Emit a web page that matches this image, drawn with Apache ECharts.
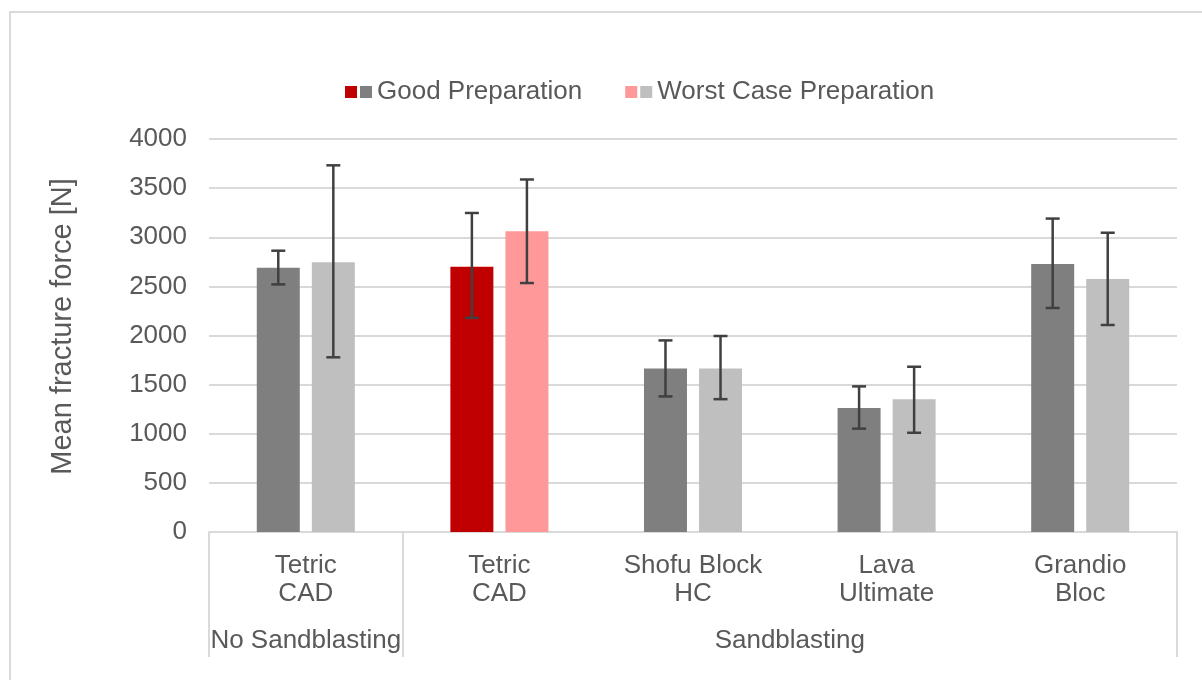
<!DOCTYPE html>
<html>
<head>
<meta charset="utf-8">
<script src="https://cdn.jsdelivr.net/npm/echarts@6/dist/echarts.min.js"></script>
<style>
html,body{margin:0;padding:0;background:#fff;}
#chart{width:1202px;height:680px;}
</style>
</head>
<body>
<div id="chart"></div>
<script>
// ---- data ----
const categories = ['Tetric\nCAD', 'Tetric\nCAD', 'Shofu Block\nHC', 'Lava\nUltimate', 'Grandio\nBloc'];
const groupLabels = ['No Sandblasting', 'Sandblasting'];
const groupSpans = [1, 4]; // number of categories per group
const seriesNames = ['Good Preparation', 'Worst Case Preparation'];
const goodValues = [2690, 2700, 1665, 1262, 2728];
const goodLow    = [2520, 2180, 1380, 1052, 2280];
const goodHigh   = [2863, 3247, 1950, 1482, 3190];
const worstValues = [2745, 3060, 1665, 1350, 2575];
const worstLow    = [1778, 2534, 1352, 1010, 2107];
const worstHigh   = [3732, 3588, 1995, 1682, 3046];
const yTicks = [0, 500, 1000, 1500, 2000, 2500, 3000, 3500, 4000];
const highlightIndex = 1;

// ---- styles ----
const textColor = '#595959';
const gridColor = '#d9d9d9';
const goodColor = '#7f7f7f', goodHi = '#c00000';
const worstColor = '#bfbfbf', worstHi = '#ff9999';
const barWidth = 43;
const barGapPct = 0.28;
const fontFamily = 'Liberation Sans, Arial, sans-serif';
const fs = 26;

// group boundaries and centers in category units
const bounds = [0];
groupSpans.forEach(s => bounds.push(bounds[bounds.length - 1] + s));
const centers = groupSpans.map((s, i) => bounds[i] + s / 2);

function errSeries(low, high, sign) {
  return {
    type: 'custom',
    xAxisIndex: 0,
    yAxisIndex: 0,
    silent: true,
    z: 5,
    data: low.map((l, i) => [i, l, high[i]]),
    renderItem: function (params, api) {
      const off = sign * barWidth * (1 + barGapPct) / 2;
      const p1 = api.coord([api.value(0), api.value(1)]);
      const p2 = api.coord([api.value(0), api.value(2)]);
      const x = p1[0] + off;
      const cap = 7;
      const style = { stroke: '#404040', lineWidth: 2.5, fill: null };
      return {
        type: 'group',
        children: [
          { type: 'line', shape: { x1: x, y1: p1[1], x2: x, y2: p2[1] }, style: style },
          { type: 'line', shape: { x1: x - cap, y1: p1[1], x2: x + cap, y2: p1[1] }, style: style },
          { type: 'line', shape: { x1: x - cap, y1: p2[1], x2: x + cap, y2: p2[1] }, style: style }
        ]
      };
    }
  };
}

const chart = echarts.init(document.getElementById('chart'), null, { renderer: 'canvas' });
chart.setOption({
  animation: false,
  backgroundColor: '#ffffff',
  textStyle: { fontFamily: fontFamily },
  graphic: [{
    type: 'rect',
    shape: { x: 10, y: 12, width: 1300, height: 800 },
    style: { fill: null, stroke: gridColor, lineWidth: 2 },
    silent: true
  }],
  legend: {
    left: 340,
    top: 74,
    itemGap: 43,
    itemWidth: 12,
    itemHeight: 12,
    icon: 'rect',
    data: [
      { name: seriesNames[0], itemStyle: { color: goodHi } },
      { name: seriesNames[1], itemStyle: { color: worstHi } }
    ],
    formatter: function (name) {
      return (name === seriesNames[0] ? '{g|}' : '{w|}') + '{t|' + name + '}';
    },
    textStyle: {
      color: textColor,
      fontSize: fs,
      padding: [0, 0, 0, -2],
      rich: {
        g: { width: 12, height: 12, backgroundColor: goodColor },
        w: { width: 12, height: 12, backgroundColor: worstColor },
        t: { fontSize: fs, color: textColor, padding: [0, 0, 0, 5] }
      }
    }
  },
  grid: { left: 209, right: 25, top: 139, bottom: 148, containLabel: false },
  xAxis: [{
    type: 'category',
    data: categories,
    position: 'bottom',
    axisLine: { show: true, lineStyle: { color: gridColor, width: 2 } },
    axisTick: { show: false },
    axisLabel: { color: textColor, fontSize: fs, lineHeight: 28, margin: 20, interval: 0 },
    splitLine: { show: false }
  }, {
    type: 'value',
    min: bounds[0],
    max: bounds[bounds.length - 1],
    position: 'bottom',
    axisLine: { show: false },
    splitLine: { show: false },
    axisTick: { show: true, customValues: bounds, length: 125, inside: false, lineStyle: { color: gridColor, width: 2 } },
    axisLabel: {
      show: true,
      customValues: centers,
      margin: 96,
      color: textColor,
      fontSize: fs,
      formatter: function (v) {
        const i = centers.findIndex(c => Math.abs(c - v) < 1e-6);
        return i >= 0 ? groupLabels[i] : '';
      }
    }
  }],
  yAxis: {
    type: 'value',
    min: yTicks[0],
    max: yTicks[yTicks.length - 1],
    interval: yTicks[1] - yTicks[0],
    name: 'Mean fracture force [N]',
    nameLocation: 'middle',
    nameGap: 132,
    nameRotate: 90,
    nameTextStyle: { color: textColor, fontSize: 29, padding: [0, 0, 0, 18] },
    axisLine: { show: false },
    axisTick: { show: false },
    axisLabel: { color: textColor, fontSize: fs, margin: 22, formatter: v => String(v) },
    splitLine: { lineStyle: { color: gridColor, width: 2 } }
  },
  series: [{
    name: seriesNames[0],
    type: 'bar',
    barWidth: barWidth,
    barGap: (barGapPct * 100) + '%',
    data: goodValues.map((v, i) => ({ value: v, itemStyle: { color: i === highlightIndex ? goodHi : goodColor } })),
    itemStyle: { color: goodColor }
  }, {
    name: seriesNames[1],
    type: 'bar',
    barWidth: barWidth,
    data: worstValues.map((v, i) => ({ value: v, itemStyle: { color: i === highlightIndex ? worstHi : worstColor } })),
    itemStyle: { color: worstColor }
  },
  errSeries(goodLow, goodHigh, -1),
  errSeries(worstLow, worstHigh, 1)
  ]
});
</script>
</body>
</html>
